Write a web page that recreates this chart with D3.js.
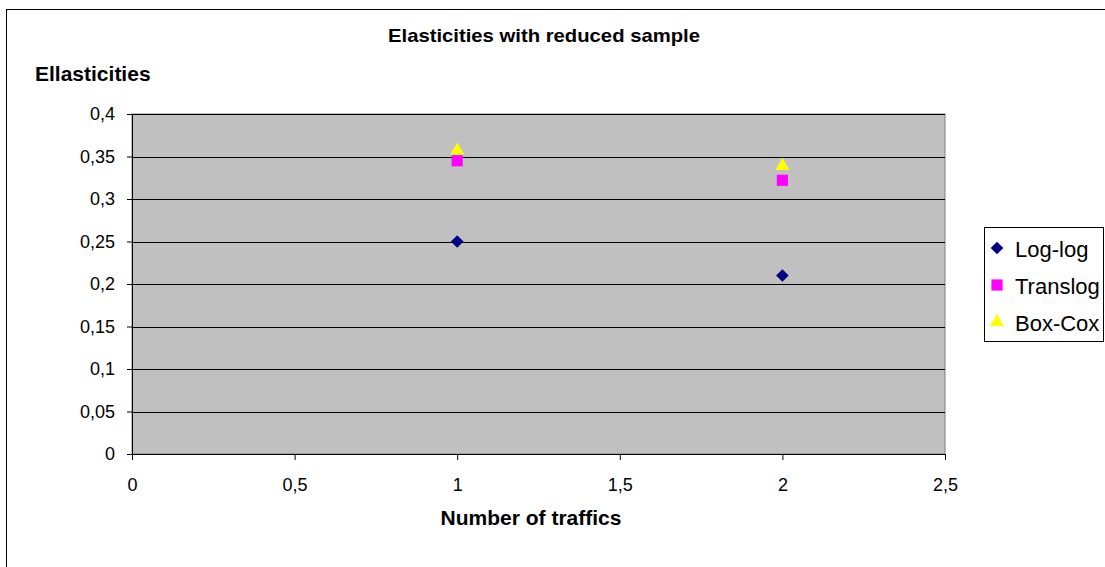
<!DOCTYPE html>
<html>
<head>
<meta charset="utf-8">
<script src="https://cdn.jsdelivr.net/npm/d3@7"></script>
<style>
  body { margin: 0; background: #fff; }
  text { font-family: "Liberation Sans", Arial, sans-serif; }
</style>
</head>
<body>
<div id="chart"></div>
<script>
const width = 1105
const height = 567
const margin = { top: 114, right: 160, bottom: 113, left: 132 }

// data
const traffics = [1, 2]
const logLog = [0.25, 0.21]
const translog = [0.345, 0.322]
const boxCox = [0.357, 0.339]
const xTicks = [0, 0.5, 1, 1.5, 2, 2.5]
const yTicks = [0, 0.05, 0.1, 0.15, 0.2, 0.25, 0.3, 0.35, 0.4]

// diamond = square turned 45 degrees
const series = [
    { name: "Log-log", values: logLog, color: "#000080", shape: d3.symbolSquare, size: 80, rotate: 45 },
    { name: "Translog", values: translog, color: "#ff00ff", shape: d3.symbolSquare, size: 125, rotate: 0 },
    { name: "Box-Cox", values: boxCox, color: "#ffff00", shape: d3.symbolTriangle, size: 85, rotate: 0 }
]

const fmt = v => String(v).replace(".", ",")

let svg = d3.select("#chart")
    .append("svg")
    .attr("width", width)
    .attr("height", height)

// outer chart frame
svg.append("rect")
    .attr("x", 6.5).attr("y", 9.5)
    .attr("width", width + 10).attr("height", height + 10)
    .style("fill", "none")
    .style("stroke", "black")
    .style("stroke-width", 1)

const x = d3.scaleLinear().domain([0, 2.5]).range([margin.left, width - margin.right])
const y = d3.scaleLinear().domain([0, 0.4]).range([height - margin.bottom, margin.top])

// plot background
svg.append("rect")
    .attr("x", x(0)).attr("y", y(0.4))
    .attr("width", x(2.5) - x(0)).attr("height", y(0) - y(0.4))
    .style("fill", "#c0c0c0")
    .style("stroke", "#808080")

// gridlines
svg.append("g")
    .selectAll("line")
    .data(yTicks.filter(d => d > 0))
    .join("line")
    .attr("x1", x(0)).attr("x2", x(2.5))
    .attr("y1", d => Math.round(y(d)) + 0.5)
    .attr("y2", d => Math.round(y(d)) + 0.5)
    .style("stroke", "black")

// axes
let yAxis = svg.append("g")
    .attr("transform", `translate(${x(0)},0)`)
    .call(d3.axisLeft(y).tickValues(yTicks).tickFormat(fmt).tickSize(5).tickPadding(12))
let xAxis = svg.append("g")
    .attr("transform", `translate(0,${y(0)})`)
    .call(d3.axisBottom(x).tickValues(xTicks).tickFormat(fmt).tickSize(6).tickPadding(18))

for (const ax of [xAxis, yAxis]) {
    ax.select(".domain").style("stroke", "black")
    ax.selectAll("line").style("stroke", "black")
    ax.selectAll("text")
        .style("font-size", "18px")
        .style("fill", "black")
        .style("font-family", "'Liberation Sans', Arial, sans-serif")
}

// markers
for (const s of series) {
    svg.append("g")
        .selectAll("path")
        .data(s.values)
        .join("path")
        .attr("d", d3.symbol().type(s.shape).size(s.size))
        .attr("transform", (d, i) => `translate(${x(traffics[i])},${y(d)}) rotate(${s.rotate})`)
        .style("fill", s.color)
}

// titles
svg.append("text")
    .attr("x", 544).attr("y", 42)
    .attr("text-anchor", "middle")
    .attr("textLength", 312).attr("lengthAdjust", "spacingAndGlyphs")
    .style("font-size", "19px").style("font-weight", "bold")
    .text("Elasticities with reduced sample")
svg.append("text")
    .attr("x", 35).attr("y", 81)
    .style("font-size", "21px").style("font-weight", "bold")
    .text("Ellasticities")
svg.append("text")
    .attr("x", 531).attr("y", 525)
    .attr("text-anchor", "middle")
    .style("font-size", "21px").style("font-weight", "bold")
    .text("Number of traffics")

// legend
let legend = svg.append("g")
legend.append("rect")
    .attr("x", 984.5).attr("y", 227.5)
    .attr("width", 119).attr("height", 114)
    .style("fill", "white")
    .style("stroke", "black")
series.forEach((s, i) => {
    const ly = 249 + i * 37
    legend.append("path")
        .attr("d", d3.symbol().type(s.shape).size(s.size))
        .attr("transform", `translate(997,${ly - 1}) rotate(${s.rotate})`)
        .style("fill", s.color)
    legend.append("text")
        .attr("x", 1015).attr("y", ly + 8)
        .style("font-size", "22px")
        .text(s.name)
})
</script>
</body>
</html>
